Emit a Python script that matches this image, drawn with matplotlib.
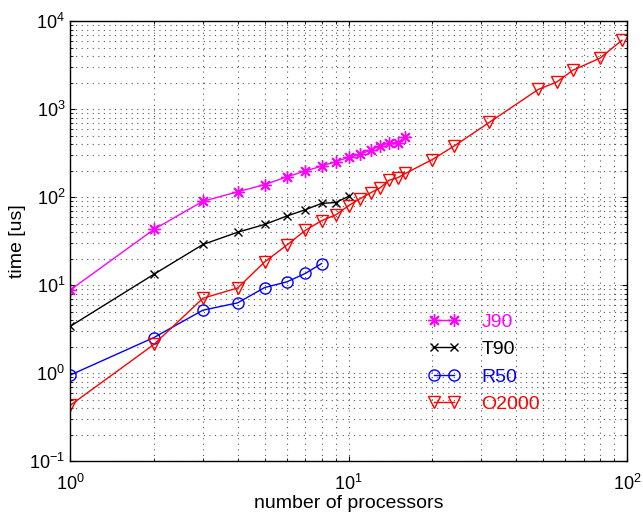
import numpy as np
import matplotlib.pyplot as plt
from matplotlib.ticker import LogLocator, NullFormatter

plt.rcParams['font.family'] = ['Liberation Sans', 'DejaVu Sans']
plt.rcParams['mathtext.fontset'] = 'custom'
plt.rcParams['mathtext.rm'] = 'Liberation Sans'
plt.rcParams['mathtext.it'] = 'Liberation Sans'

# data
j90_x = [1, 2, 3, 4, 5, 6, 7, 8, 9, 10, 11, 12, 13, 14, 15, 16]
j90_t = [8.8, 43, 90, 115, 139, 170, 199, 225, 254, 283, 307, 342, 383, 414, 417, 484]

t90_x = [1, 2, 3, 4, 5, 6, 7, 8, 9, 10]
t90_t = [3.4, 13.3, 29, 40, 49, 61, 72, 85, 87, 102]

r50_x = [1, 2, 3, 4, 5, 6, 7, 8]
r50_t = [0.95, 2.54, 5.2, 6.3, 9.4, 10.9, 13.6, 17.6]

o2000_x = [1, 2, 3, 4, 5, 6, 7, 8, 9, 10, 11, 12, 13, 14, 15, 16,
           20, 24, 32, 48, 56, 64, 80, 96]
o2000_t = [0.43, 2.12, 7.1, 9.3, 18.4, 28.5, 42, 54, 63, 80, 96, 112, 128, 156, 166, 186,
           268, 383, 706, 1675, 2040, 2775, 3800, 6080]

fig = plt.figure(figsize=(6.43, 5.17), dpi=100)
ax = fig.add_axes([0.109, 0.108, 0.866, 0.851])

ax.loglog(j90_x, j90_t, color='magenta', marker=(8, 2, 0), ms=9, lw=1, label='J90')
ax.loglog(t90_x, t90_t, color='black', marker='x', ms=6, lw=1, label='T90')
ax.loglog(r50_x, r50_t, color='blue', marker='o', ms=8, mfc='none', lw=1, label='R50')
ax.loglog(o2000_x, o2000_t, color='red', marker='v', ms=9, mfc='none', lw=1, label='O2000')

ax.set_xlim(1, 100)
ax.set_ylim(0.1, 1e4)
ax.xaxis.set_minor_locator(LogLocator(base=10, subs=np.arange(2, 10)))
ax.yaxis.set_minor_locator(LogLocator(base=10, subs=np.arange(2, 10), numticks=20))
ax.xaxis.set_minor_formatter(NullFormatter())
ax.yaxis.set_minor_formatter(NullFormatter())
ax.grid(True, which='both', linestyle=(0, (1, 4)), color='0.35', lw=0.8)
ax.tick_params(which='both', direction='in', top=True, right=True, labelsize=13)
ax.tick_params(axis='x', pad=9)
for s in ax.spines.values():
    s.set_linewidth(1.0)

ax.set_xlabel('number of processors', fontsize=14, labelpad=1)
ax.set_ylabel('time [us]', fontsize=14, labelpad=2)

leg = ax.legend(loc='upper left', bbox_to_anchor=(0.643, 0.336), frameon=False,
                fontsize=14, numpoints=2, handlelength=1.65, labelspacing=0.5,
                handletextpad=1.1, borderpad=0, borderaxespad=0)
for txt, line in zip(leg.get_texts(), leg.get_lines()):
    txt.set_color(line.get_color())

fig.savefig('out.png', dpi=100)
